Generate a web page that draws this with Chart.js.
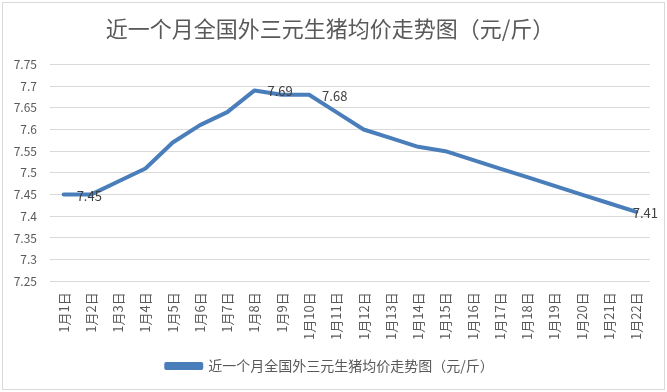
<!DOCTYPE html>
<html>
<head>
<meta charset="utf-8">
<script src="https://cdn.jsdelivr.net/npm/chart.js@4/dist/chart.umd.min.js"></script>
<style>
    html, body { margin: 0; padding: 0; background: #fff; }
    #wrap { position: relative; width: 667px; height: 392px; }
    #frame { position: absolute; left: 2px; top: 2px; width: 661px; height: 386px; border: 1px solid #d9d9d9; pointer-events: none; }
</style>
</head>
<body>
<div id="wrap">
    <canvas id="priceChart" width="667" height="392"></canvas>
    <div id="frame"></div>
</div>
<script>
// 数据
const days = ['1月1日','1月2日','1月3日','1月4日','1月5日','1月6日','1月7日','1月8日','1月9日','1月10日','1月11日',
              '1月12日','1月13日','1月14日','1月15日','1月16日','1月17日','1月18日','1月19日','1月20日','1月21日','1月22日'];
const prices = [7.45, 7.45, 7.48, 7.51, 7.57, 7.61, 7.64, 7.69, 7.68, 7.68, 7.64,
                7.60, 7.58, 7.56, 7.55, 7.53, 7.51, 7.49, 7.47, 7.45, 7.43, 7.41];
const labeledDays = [0, 7, 9, 21]; // 只有这几个点显示数值
const seriesName = '近一个月全国外三元生猪均价走势图（元/斤）';

const FONT = "'Noto Sans CJK SC', 'Noto Sans', sans-serif";

// 数据标签（放在点的右边，最后一个不超出边框）
const pointLabels = {
    id: 'pointLabels',
    afterDatasetsDraw(chart) {
        const ctx = chart.ctx;
        const meta = chart.getDatasetMeta(0);
        ctx.save();
        ctx.font = '13px ' + FONT;
        ctx.fillStyle = '#404040';
        ctx.textAlign = 'left';
        ctx.textBaseline = 'middle';
        labeledDays.forEach(i => {
            const p = meta.data[i];
            const txt = String(prices[i]);
            const x = Math.min(p.x + 13, chart.width - 9 - ctx.measureText(txt).width);
            ctx.fillText(txt, x, p.y + 1);
        });
        ctx.restore();
    }
};

new Chart(document.getElementById('priceChart'), {
    type: 'line',
    data: {
        labels: days,
        datasets: [{
            label: seriesName,
            data: prices,
            borderColor: '#4a7ebb',
            backgroundColor: '#4a7ebb',
            borderWidth: 4,
            borderCapStyle: 'round',
            borderJoinStyle: 'round',
            pointRadius: 0,
            tension: 0
        }]
    },
    options: {
        responsive: false,
        animation: false,
        layout: { padding: { left: 10, right: 17, top: 0, bottom: 9 } },
        plugins: {
            title: {
                display: true,
                text: seriesName,
                color: '#595959',
                font: { family: FONT, size: 22, weight: 'normal' },
                padding: { top: 15, bottom: 23 }
            },
            legend: {
                position: 'bottom',
                labels: {
                    color: '#595959',
                    font: { family: FONT, size: 14 },
                    boxWidth: 35,
                    boxHeight: 4,
                    padding: 8
                }
            },
            tooltip: { enabled: false }
        },
        scales: {
            x: {
                offset: true,
                grid: { display: false, drawTicks: false },
                border: { display: false },
                ticks: {
                    color: '#595959',
                    font: { family: FONT, size: 13 },
                    minRotation: 90,
                    maxRotation: 90,
                    autoSkip: false,
                    padding: 11
                }
            },
            y: {
                min: 7.25,
                max: 7.75,
                border: { display: false },
                grid: { color: '#d9d9d9', drawTicks: false },
                ticks: {
                    stepSize: 0.05,
                    color: '#595959',
                    font: { family: FONT, size: 12 },
                    padding: 13,
                    callback: v => String(+v.toFixed(2))
                },
                afterFit: scale => { scale.width = 40; }
            }
        }
    },
    plugins: [pointLabels]
});
</script>
</body>
</html>
